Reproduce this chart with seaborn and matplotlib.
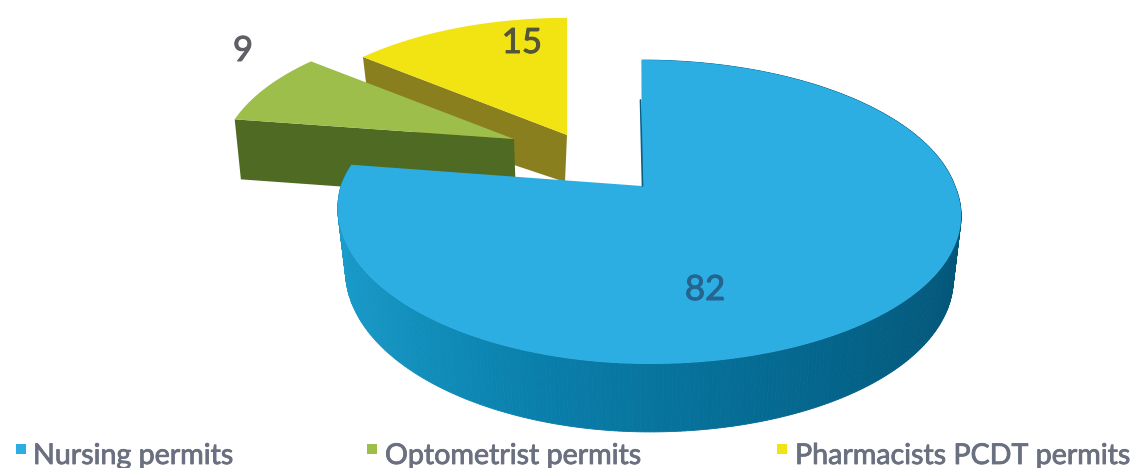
import numpy as np
import matplotlib
matplotlib.use("Agg")
import matplotlib.pyplot as plt
import matplotlib.patheffects as pe
from matplotlib.colors import LinearSegmentedColormap
import seaborn as sns

categories = ["Nursing permits", "Optometrist permits", "Pharmacists PCDT permits"]
values = [82, 9, 15]
top_colors = ["#2DAEE3", "#9DBE4A", "#F2E313"]
side_colors = ["#0B7BA6", "#4F6A22", "#8A7F1E"]
label_colors = ["#24648F", "#5F5F66", "#55553A"]
text_color = "#6A7080"

sns.set_theme(style="white")
plt.rcParams["font.family"] = ["Lato", "DejaVu Sans"]

fig, ax = plt.subplots(figsize=(11.37, 4.68), dpi=100)
ax.set_position([0, 0, 1, 1])
ax.set_xlim(0, 1137)
ax.set_ylim(468, 0)
ax.axis("off")

KP, RY, RX_R = 0.171, 147.5, 313


def project(theta, apex, r=1.0, rx_left=313):
    u, v = np.sin(theta), np.cos(theta)
    d = 1 + KP * v
    rx = np.where(u > 0, RX_R, rx_left)
    x = apex[0] + r * rx * u / d + np.clip(-v, 0, 1) * 8
    y = apex[1] - r * RY * v / d
    return x, y


def extrude(x, y, depth=60, k=0.025):
    return x + k * (648 - x), y + depth


total = sum(values)
edges = np.cumsum([0] + values) / total * 2 * np.pi


def arc(i, n=200):
    return np.linspace(edges[i], edges[i + 1], n)


def bold(width):
    return [pe.withStroke(linewidth=width, foreground="none")]


# Yellow slice
ya = (567, 135)
xs, ys = project(arc(2), ya, 0.93)
bx, by = extrude(xs, ys)
ax.fill([xs[0], ya[0], ya[0] - 2, bx[0]], [ys[0], ya[1], ya[1] + 47, by[0]],
        color=side_colors[2], lw=0, zorder=1)
ax.fill(np.r_[ya[0], xs], np.r_[ya[1], ys], color=top_colors[2], lw=0, zorder=2)

# Green slice
ga = (514, 139)
xs, ys = project(arc(1), ga, 0.925)
bx, by = extrude(xs, ys, k=0.015)
abx, aby = extrude(np.array(ga[0]), np.array(ga[1]), k=0.015)
ax.fill([xs[0], ga[0], abx, bx[0]], [ys[0], ga[1], aby, by[0]],
        color=side_colors[1], lw=0, zorder=3)
ax.fill(np.r_[ga[0], xs], np.r_[ga[1], ys], color=top_colors[1], lw=0, zorder=4)

# Blue slice
ba = (642, 186)
cmap = LinearSegmentedColormap.from_list(
    "side", ["#035577", "#056A92", "#0A80AC", "#1A9CCB"])
th = arc(0, 400)
xs, ys = project(th, ba, 1.0, 301)
bx, by = extrude(xs, ys, 62)
by = by + 6 * np.clip(-np.cos(th), 0, 1)
for i in range(len(th) - 1):
    col = cmap((1 - np.sin(th[i])) / 2)
    ax.fill([xs[i], xs[i + 1], bx[i + 1], bx[i]],
            [ys[i], ys[i + 1], by[i + 1], by[i]],
            facecolor=col, edgecolor=col, lw=0.6, zorder=5)
ax.fill(np.r_[ba[0], xs], np.r_[ba[1], ys], color=top_colors[0], lw=0, zorder=6)
ax.plot([640.5, 642.5], [100, 186], color="#0A5F85", lw=1.2, zorder=7)

# Value labels
stroke = 0.7
for (x, y, v, c) in [(705, 290, values[0], label_colors[0]),
                     (243, 51, values[1], label_colors[1]),
                     (522, 43, values[2], label_colors[2])]:
    t = ax.text(x, y, str(v), color=c, fontsize=25, ha="center", va="center", zorder=8)
    t.set_path_effects([pe.withStroke(linewidth=stroke, foreground=c)])

# Legend
marker_x = [21, 372, 782]
text_x = [33, 385, 795]
for i, cat in enumerate(categories):
    ax.scatter([marker_x[i]], [449], marker="s", s=60, color=top_colors[i], lw=0)
    t = ax.text(text_x[i], 456, cat, color=text_color, fontsize=20.6,
                ha="left", va="center")
    t.set_path_effects([pe.withStroke(linewidth=0.6, foreground=text_color)])

fig.savefig("out.png", dpi=100)
